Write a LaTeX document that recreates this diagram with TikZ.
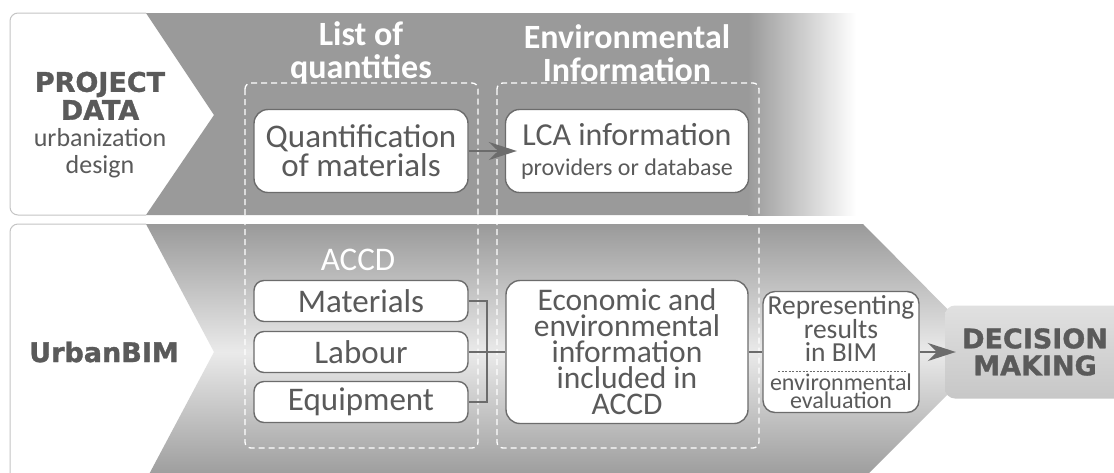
\documentclass[tikz,border=0pt]{standalone}
\usepackage{fontspec}
\setmainfont{Carlito}
\newfontfamily\heavyfont{DejaVu Sans}[BoldFeatures={FakeBold=1.2}]
\usetikzlibrary{arrows.meta}

\definecolor{bandgray}{RGB}{154,154,154}
\definecolor{bandlight}{RGB}{234,234,234}
\definecolor{inkgray}{RGB}{90,90,90}
\definecolor{edgegray}{RGB}{108,108,108}
\definecolor{rimgray}{RGB}{196,196,196}

\tikzset{
  infobox/.style={draw=edgegray, line width=1.4pt, fill=white, rounded corners=14pt,
    text=inkgray, align=center, inner sep=0pt},
  itembox/.style={infobox, rounded corners=10pt, minimum width=214pt, minimum height=41pt,
    font=\fontsize{33}{30}\selectfont},
  groupbox/.style={draw=white, line width=1.3pt, dash pattern=on 6pt off 4pt, rounded corners=6pt},
  heading/.style={text=white, align=center, font=\bfseries\fontsize{34}{33}\selectfont},
  sidelabel/.style={text=inkgray, inner sep=0pt},
  flow/.style={draw=edgegray, line width=2pt, -{Stealth[length=28pt,width=18pt,inset=9pt]}},
  link/.style={draw=edgegray, line width=1.2pt},
}

\begin{document}
\begin{tikzpicture}[x=1pt,y=-1pt]

\clip (0,0) rectangle (1114,472);
\fill[white] (0,0) rectangle (1114,472);

% ---- Project data band ----
\fill[bandgray] (146,13) -- (214,115) -- (146,215) -- (750,215) -- (750,13) -- cycle;
\shade[left color=bandgray, right color=white] (748,13) rectangle (856,215);
\draw[rimgray, line width=1pt, rounded corners=8pt] (146,13) -- (10,13) -- (10,215) -- (146,215);

% ---- UrbanBIM band ----
\shade[top color=bandgray, bottom color=bandgray, middle color=bandlight]
  (146,224) -- (863,224) -- (990,352) -- (862,480) -- (146,480) -- (214,352) -- cycle;
\draw[rimgray, line width=1pt, rounded corners=8pt] (146,224) -- (10,224) -- (10,490);

% Left labels
\node[sidelabel] (project) at (100,125)
  {\parbox{180pt}{\centering
   \heavyfont\bfseries\fontsize{27}{28}\selectfont PROJECT\\DATA\par
   \rmfamily\mdseries\fontsize{26}{27}\selectfont urbanization\\design\par}};
\node[sidelabel, font=\heavyfont\bfseries\fontsize{27}{28}\selectfont] (urbanbim) at (104,352) {UrbanBIM};

% Dashed groups and their titles
\draw[groupbox] (245,83) rectangle (478,448);
\draw[groupbox] (497,83) rectangle (759,448);
\node[heading] (qtytitle) at (361,53) {List of\\quantities};
\node[heading] (envtitle) at (627,53) {Environmental\\Information};

% ---- Upper boxes ----
\node[infobox, minimum width=214pt, minimum height=83pt, font=\fontsize{33}{29}\selectfont]
  (quant) at (361,151) {Quantification\\of materials};
\node[infobox, minimum width=243pt, minimum height=83pt, font=\fontsize{24}{30}\selectfont]
  (lca) at (627,151) {{\fontsize{32}{30}\selectfont LCA information}\\providers or database};
\draw[flow, shorten >=-12pt] (quant) -- (lca);

% ---- ACCD items ----
\node[text=white, font=\fontsize{33}{33}\selectfont] (accd) at (358,260) {ACCD};
\node[itembox] (mat) at (361,301) {Materials};
\node[itembox] (lab) at (361,352) {Labour};
\node[itembox] (equ) at (361,402) {Equipment};

\node[infobox, minimum width=242pt, minimum height=143pt, font=\fontsize{31.5}{26}\selectfont]
  (econ) at (627,352) {Economic and\\environmental\\information\\included in\\ACCD};

% Joining the three items
\coordinate (join) at (487,352);
\draw[link] (mat.east) -- (mat.east -| join) -- (equ.east -| join) -- (equ.east);
\draw[link] (lab.east) -- (econ.west);

% ---- Results and decision ----
\node[infobox, rounded corners=12pt, minimum width=156pt, minimum height=121pt, align=none] (rep) at (841,352)
  {\parbox{154pt}{\centering
   \fontsize{27.5}{23}\selectfont Representing\\results\\in BIM\par\vspace{11pt}
   \fontsize{24}{18}\selectfont environmental\\evaluation\par}};
\draw[edgegray, line width=0.6pt, dash pattern=on 2pt off 1.5pt]
  ([shift={(-63,19)}]rep.center) -- ([shift={(66,19)}]rep.center);
\draw[link] (econ.east) -- (rep.west);

\node[rounded corners=10pt, top color=black!12, bottom color=black!22, minimum width=180pt,
  minimum height=93pt, text=inkgray, align=center,
  font=\heavyfont\bfseries\fontsize{27}{27}\selectfont] (decide) at (1035,352) {DECISION\\MAKING};
\draw[flow, shorten >=-11pt] (rep) -- (decide);

\end{tikzpicture}
\end{document}
